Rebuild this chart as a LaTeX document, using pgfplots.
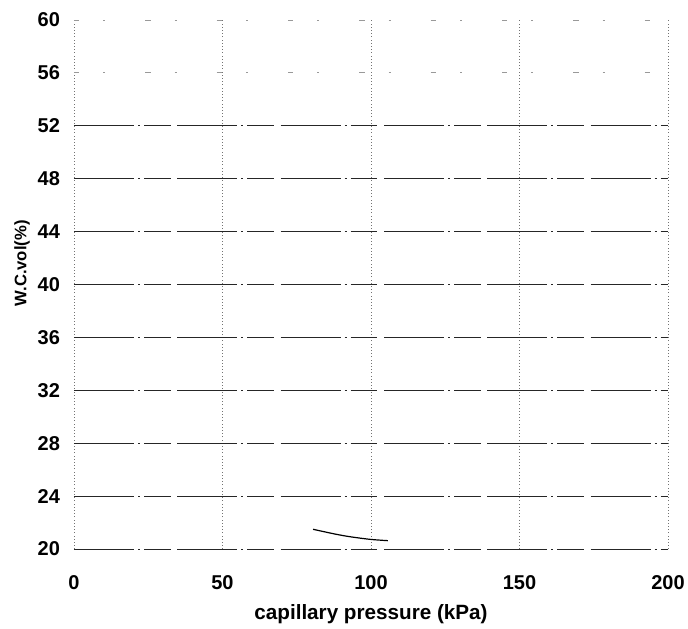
\documentclass[border=0pt]{standalone}
\usepackage{fontspec}
\setmainfont{Liberation Sans}
\usepackage{pgfplots}
\pgfplotsset{compat=1.18}

\begin{document}
\begin{tikzpicture}
\begin{axis}[
  name=ax,
  scale only axis,
  width=445.5pt, height=396.75pt,
  xmin=0, xmax=200, ymin=20, ymax=60,
  xtick={0,50,100,150,200},
  ytick={20,24,...,52},
  extra y ticks={56,60},
  extra y tick style={
    major grid style={black!40, dash pattern=on 4pt off 18pt on 1.5pt off 30pt, line width=0.6pt},
    y grid style={black!40, dash pattern=on 4pt off 18pt on 1.5pt off 30pt, line width=0.6pt}},
  axis line style={draw=none},
  major tick length=0pt,
  grid=major,
  x grid style={black!55, dotted, line width=0.6pt},
  y grid style={black!85, dash pattern=on 45pt off 3pt on 1.5pt off 3pt on 20pt off 5pt, line width=0.7pt},
  /pgf/number format/assume math mode=true,
  tick label style={font=\bfseries\fontsize{15}{15}\selectfont},
  xticklabel style={yshift=-16pt},
  yticklabel style={xshift=-7pt},
  xlabel={capillary pressure (kPa)},
  ylabel={W.C.vol(\%)},
  xlabel style={font=\bfseries\fontsize{15.5}{15.5}\selectfont, at={(axis description cs:0.5,0)}, anchor=base, yshift=-53pt},
  ylabel style={font=\bfseries\fontsize{12.5}{12.5}\selectfont, at={(axis description cs:0,0.54)}, anchor=center, yshift=39pt},
  clip=false,
]
\addplot[black, line width=0.9pt, smooth] coordinates {(80.5,21.49) (87.9,21.13) (92.9,20.93) (99.7,20.73) (105.7,20.63)};
\end{axis}
\pgfresetboundingbox
\path[use as bounding box] ([shift={(-55.5pt,-59.25pt)}]ax.south west) rectangle ([shift={(15pt,15pt)}]ax.north east);
\end{tikzpicture}
\end{document}
